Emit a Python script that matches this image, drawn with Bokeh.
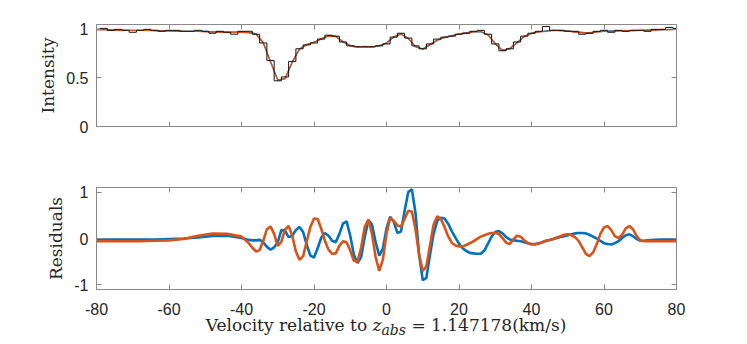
from bokeh.plotting import figure
from bokeh.layouts import column
from bokeh.models import Range1d, LinearAxis, FixedTicker, CustomJSTickFormatter, Div
from bokeh.embed import file_html
from bokeh.resources import INLINE

# ---------------- data ----------------
vel_obs = list(range(-80, 81, 2))
flux_obs = [1.00, 1.01, 0.99, 1.00, 0.99, 0.97, 0.99, 1.00, 0.99, 0.98,
            0.99, 0.99, 0.98, 0.98, 0.99, 0.98, 0.96, 0.98, 0.97, 0.95,
            0.98, 0.98, 0.95, 0.86, 0.68, 0.47, 0.51, 0.67, 0.80, 0.84,
            0.86, 0.90, 0.94, 0.93, 0.87, 0.83, 0.82, 0.82, 0.82, 0.83,
            0.85, 0.92, 0.96, 0.91, 0.83, 0.80, 0.85, 0.90, 0.92, 0.93,
            0.95, 0.96, 0.98, 0.99, 0.95, 0.85, 0.78, 0.80, 0.87, 0.93,
            0.96, 0.98, 1.03, 0.99, 0.99, 0.98, 0.98, 0.95, 0.96, 0.98,
            0.99, 0.97, 0.99, 0.98, 0.99, 0.99, 0.98, 1.00, 1.00, 1.02,
            1.01]
model_blue = [1.00, 1.00, 0.995, 0.995, 0.99, 0.99, 0.99, 0.99, 0.99, 0.985,
              0.985, 0.985, 0.98, 0.98, 0.98, 0.98, 0.975, 0.975, 0.97, 0.97,
              0.975, 0.97, 0.955, 0.86, 0.67, 0.48, 0.49, 0.66, 0.80, 0.84,
              0.87, 0.90, 0.935, 0.93, 0.87, 0.835, 0.82, 0.82, 0.82, 0.83,
              0.86, 0.92, 0.955, 0.905, 0.825, 0.795, 0.84, 0.89, 0.915, 0.935,
              0.95, 0.965, 0.975, 0.975, 0.945, 0.85, 0.785, 0.80, 0.865, 0.925,
              0.96, 0.975, 0.985, 0.99, 0.99, 0.985, 0.975, 0.965, 0.965, 0.975,
              0.98, 0.985, 0.985, 0.985, 0.99, 0.99, 0.99, 0.995, 0.995, 1.00,
              1.00]
model_orange = [0.995, 0.995, 0.995, 0.99, 0.99, 0.99, 0.99, 0.99, 0.985, 0.985,
                0.985, 0.98, 0.98, 0.98, 0.98, 0.975, 0.975, 0.97, 0.97, 0.97,
                0.97, 0.965, 0.95, 0.865, 0.665, 0.475, 0.495, 0.665, 0.795, 0.845,
                0.865, 0.905, 0.93, 0.925, 0.875, 0.83, 0.82, 0.825, 0.82, 0.835,
                0.855, 0.925, 0.95, 0.91, 0.82, 0.80, 0.845, 0.885, 0.92, 0.93,
                0.955, 0.96, 0.975, 0.98, 0.94, 0.855, 0.78, 0.805, 0.86, 0.93,
                0.955, 0.975, 0.98, 0.99, 0.985, 0.985, 0.97, 0.97, 0.96, 0.975,
                0.98, 0.98, 0.985, 0.99, 0.985, 0.99, 0.995, 0.99, 1.00, 0.995,
                1.00]

vel_res = [-80, -76, -72, -68, -64, -60, -56, -52, -48, -44, -40,
           -39, -38, -37, -36, -35, -34, -33, -32, -31, -30,
           -29, -28, -27, -26, -25, -24, -23, -22, -21, -20,
           -19, -18, -17, -16, -15, -14, -13, -12, -11, -10,
           -9, -8, -7, -6, -5, -4, -3, -2, -1, 0,
           1, 2, 3, 4, 5, 6, 7, 8, 9, 10,
           11, 12, 13, 14, 15, 16, 17, 18, 19, 20,
           21, 22, 23, 24, 25, 26, 27, 28, 29, 30,
           31, 32, 33, 34, 35, 36, 37, 38, 39, 40,
           41, 42, 43, 44, 45, 46, 47, 48, 49, 50,
           51, 52, 53, 54, 55, 56, 57, 58, 59, 60,
           61, 62, 63, 64, 65, 66, 67, 68, 69, 70,
           71, 72, 74, 76, 78, 80]
res_blue = [-0.02, -0.02, -0.02, -0.02, -0.02, -0.01, 0.00, 0.02, 0.055, 0.06, 0.01,
            -0.01, -0.03, -0.04, -0.04, -0.03, -0.08, -0.18, -0.24, -0.19, -0.08,
            0.18, 0.17, 0.03, 0.06, 0.18, 0.25, 0.14, -0.14, -0.37, -0.41,
            -0.21, 0.02, 0.12, 0.06, -0.05, -0.08, 0.10, 0.32, 0.37, 0.06,
            -0.35, -0.53, -0.40, 0.03, 0.40, 0.30, -0.08, -0.37, -0.22, 0.22,
            0.47, 0.36, 0.12, 0.15, 0.60, 1.00, 1.06, 0.55, -0.35, -0.90,
            -0.85, -0.35, 0.10, 0.38, 0.45, 0.43, 0.32, 0.16, 0.02, -0.11,
            -0.21, -0.27, -0.31, -0.32, -0.33, -0.33, -0.26, -0.11, 0.04, 0.14,
            0.16, 0.11, 0.03, -0.02, -0.04, -0.05, -0.06, -0.08, -0.10, -0.12,
            -0.12, -0.10, -0.08, -0.05, -0.03, -0.01, 0.01, 0.03, 0.05, 0.07,
            0.09, 0.11, 0.12, 0.12, 0.11, 0.08, 0.04, 0.00, -0.05, -0.10,
            -0.12, -0.13, -0.10, -0.06, 0.01, 0.07, 0.09, 0.05, -0.01, -0.05,
            -0.05, -0.04, -0.03, -0.02, -0.02, -0.02]
res_orange = [-0.06, -0.06, -0.06, -0.06, -0.05, -0.04, -0.01, 0.06, 0.105, 0.10, 0.04,
              -0.03, -0.10, -0.20, -0.28, -0.25, -0.05, 0.20, 0.26, 0.10, -0.16,
              -0.07, 0.19, 0.27, 0.06, -0.28, -0.46, -0.38, -0.06, 0.25, 0.43,
              0.42, 0.21, -0.05, -0.24, -0.33, -0.32, -0.16, -0.06, -0.08, -0.26,
              -0.48, -0.50, -0.20, 0.25, 0.41, 0.10, -0.40, -0.70, -0.45, 0.10,
              0.45, 0.38, 0.28, 0.26, 0.42, 0.60, 0.58, 0.20, -0.35, -0.70,
              -0.60, -0.15, 0.30, 0.48, 0.42, 0.25, 0.05, -0.09, -0.15, -0.17,
              -0.17, -0.14, -0.10, -0.06, -0.01, 0.04, 0.07, 0.10, 0.12, 0.12,
              0.10, 0.01, -0.09, -0.12, -0.02, 0.06, 0.04, -0.04, -0.10, -0.13,
              -0.13, -0.11, -0.08, -0.05, -0.03, -0.01, 0.02, 0.05, 0.08, 0.09,
              0.07, 0.03, -0.05, -0.19, -0.33, -0.38, -0.30, -0.12, 0.10, 0.24,
              0.27, 0.18, 0.05, 0.01, 0.08, 0.22, 0.27, 0.20, 0.05, -0.04,
              -0.06, -0.06, -0.06, -0.06, -0.06, -0.06]

x_ticks = [-80, -60, -40, -20, 0, 20, 40, 60, 80]
x_tick_labels = ["-80", "-60", "-40", "-20", "0", "20", "40", "60", "80"]
intensity_ticks = [0, 0.5, 1]
intensity_tick_labels = ["0", "0.5", "1"]
residual_ticks = [-1, 0, 1]
residual_tick_labels = ["-1", "0", "1"]

# ---------------- style ----------------
BLUE = "#0072BD"
ORANGE = "#D95319"
FRAME = "#8a8a8a"
TEXT = "#262626"
SERIF = "DejaVu Serif"
SANS = "Liberation Sans"
FRAME_W = 580
FRAME_H = 102
LEFT = 96
RIGHT = 30

blank = CustomJSTickFormatter(code="return ''")


def style_axis(ax, ticks, labels=None, standoff=8):
    ax.ticker = FixedTicker(ticks=ticks)
    ax.major_tick_in = 5
    ax.major_tick_out = 0
    ax.minor_tick_in = 0
    ax.minor_tick_out = 0
    ax.axis_line_color = FRAME
    ax.major_tick_line_color = FRAME
    ax.major_label_text_font = SANS
    ax.major_label_text_font_size = "16px"
    ax.major_label_text_color = TEXT
    ax.major_label_text_line_height = 1.0
    ax.major_label_standoff = standoff
    if labels is None:
        ax.formatter = blank
    else:
        ax.major_label_overrides = {t: s for t, s in zip(ticks, labels)}


def make_fig(ymin, ymax, yticks, ylabels, top, bottom, ylabel):
    p = figure(frame_width=FRAME_W, frame_height=FRAME_H,
               x_range=Range1d(-80, 80), y_range=Range1d(ymin, ymax),
               output_backend="svg", toolbar_location=None,
               min_border_left=LEFT, min_border_right=RIGHT,
               min_border_top=top, min_border_bottom=bottom)
    p.grid.visible = False
    p.outline_line_color = FRAME
    p.background_fill_color = "white"
    p.border_fill_color = "white"
    p.add_layout(LinearAxis(), "above")
    p.add_layout(LinearAxis(), "right")
    style_axis(p.above[0], x_ticks)
    style_axis(p.right[0], yticks)
    style_axis(p.yaxis[0], yticks, ylabels, standoff=8)
    p.yaxis[0].axis_label = ylabel
    p.yaxis[0].axis_label_text_font = SERIF
    p.yaxis[0].axis_label_text_font_size = "17px"
    p.yaxis[0].axis_label_text_font_style = "normal"
    p.yaxis[0].axis_label_text_color = TEXT
    p.yaxis[0].axis_label_standoff = 5
    return p


# ---------------- top panel ----------------
p1 = make_fig(0, 1.05, intensity_ticks, intensity_tick_labels, 24, 30, "Intensity")
style_axis(p1.below[0], x_ticks)
p1.line(vel_obs, model_blue, line_color=BLUE, line_width=1.3)
p1.line(vel_obs, model_orange, line_color=ORANGE, line_width=1.3)
p1.step(vel_obs, flux_obs, mode="center", line_color="#111111", line_width=1.0)

# ---------------- bottom panel ----------------
p2 = make_fig(-1.1, 1.1, residual_ticks, residual_tick_labels, 31, 24, "Residuals")
style_axis(p2.below[0], x_ticks, x_tick_labels, standoff=13)
p2.line(vel_res, res_blue, line_color=BLUE, line_width=2.6)
p2.line(vel_res, res_orange, line_color=ORANGE, line_width=2.6)

# ---------------- x-axis title (italic z with subscript, as real HTML text) ----------------
xlabel_html = ('Velocity relative to <i>z</i>'
               '<sub style="font-style:italic;font-size:14px;vertical-align:-4px;line-height:0">abs</sub>'
               ' = 1.147178(km/s)')
xlabel = Div(text=xlabel_html, width=FRAME_W, height=20, margin=(0, 0, 0, LEFT),
             styles={"font-family": "'DejaVu Serif'", "font-size": "17px",
                     "line-height": "17px", "text-align": "center",
                     "color": TEXT, "white-space": "nowrap"})

layout = column(p1, p2, xlabel, spacing=0)
open("out.html", "w").write(file_html(layout, INLINE))
